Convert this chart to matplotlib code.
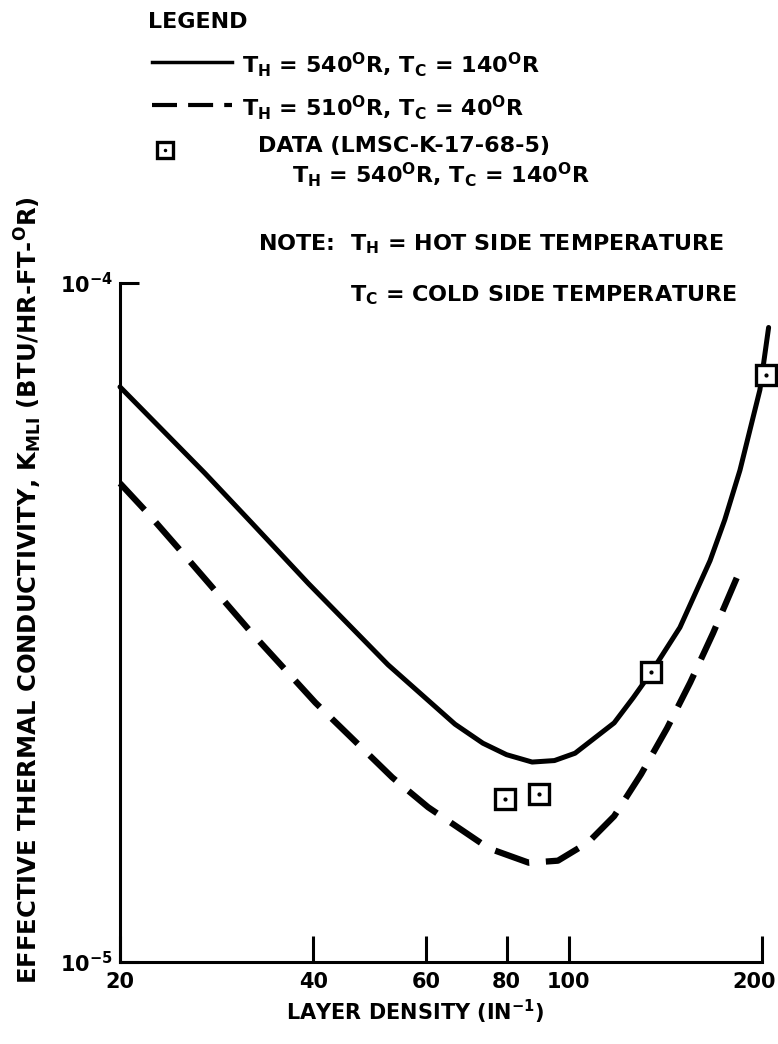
import matplotlib
matplotlib.use('Agg')
import matplotlib.pyplot as plt
from matplotlib.lines import Line2D
from matplotlib.transforms import ScaledTranslation

plt.rcParams['font.family'] = ['DejaVu Sans']
plt.rcParams['font.weight'] = 'bold'
plt.rcParams['mathtext.fontset'] = 'dejavusans'
plt.rcParams['mathtext.default'] = 'bf'
plt.rcParams['lines.scale_dashes'] = False

# layer density (1/in) vs effective conductivity, TH=540R TC=140R
density_hot = [20, 27.1, 32.1, 39.3, 52.3, 66.5, 73.5, 80, 87.7, 95, 102.3, 117.7, 126, 134.4, 149, 166, 175, 184.8, 198.5, 204.8]
k_hot = [7.03e-5, 5.25e-5, 4.43e-5, 3.61e-5, 2.74e-5, 2.24e-5, 2.10e-5, 2.02e-5, 1.97e-5, 1.98e-5, 2.03e-5, 2.25e-5, 2.45e-5, 2.67e-5, 3.11e-5, 3.9e-5, 4.48e-5, 5.30e-5, 6.96e-5, 8.6e-5]
# TH=510R TC=40R
density_cold = [20, 22.1, 25.4, 32.1, 40.3, 53.1, 60.4, 75.1, 86.7, 96.2, 107.2, 117.7, 129.6, 142.3, 154.6, 167.8, 183.6]
k_cold = [5.07e-5, 4.58e-5, 3.94e-5, 3.05e-5, 2.41e-5, 1.87e-5, 1.69e-5, 1.47e-5, 1.40e-5, 1.41e-5, 1.50e-5, 1.64e-5, 1.89e-5, 2.21e-5, 2.58e-5, 3.05e-5, 3.72e-5]
# LMSC-K-17-68-5 data
density_data = [79.6, 89.9, 134.4, 202.8]
k_data = [1.74e-5, 1.77e-5, 2.67e-5, 7.32e-5]

xticks = [20, 40, 60, 80, 100, 200]
xticklabels = ['20', '40', '60', '80', '100', '200']
yticks = [1e-5, 1e-4]
yticklabels = [r'$10^{-5}$', r'$10^{-4}$']

W, H = 778, 1044
fig = plt.figure(figsize=(W / 100, H / 100), dpi=100)
ax = fig.add_axes([120 / W, 1 - 962 / H, (762 - 120) / W, (962 - 283) / H])
ax.set_xscale('log')
ax.set_yscale('log')
ax.set_xlim(20, 200)
ax.set_ylim(1e-5, 1e-4)

ax.plot(density_hot, k_hot, color='k', lw=3.6, solid_capstyle='round', clip_on=False)
ax.plot(density_cold, k_cold, color='k', lw=4.5, dashes=(26, 12), clip_on=False)
ax.plot(density_data, k_data, ls='none', marker='s', ms=15, mfc='white', mec='k', mew=2.4, clip_on=False, zorder=5)
ax.plot(density_data, k_data, ls='none', marker='.', ms=4, color='k', clip_on=False, zorder=6)

for s in ['top', 'right']:
    ax.spines[s].set_visible(False)
for s in ['left', 'bottom']:
    ax.spines[s].set_linewidth(2.2)

ax.minorticks_off()
ax.set_xticks(xticks)
ax.set_xticklabels(xticklabels)
ax.set_yticks(yticks)
ax.set_yticklabels(yticklabels)
ax.tick_params(axis='x', direction='in', length=19, width=2.2, pad=7, labelsize=15)
ax.tick_params(axis='y', direction='in', length=14, width=2.2, pad=5, labelsize=15)
# last label sits a bit left of its tick, as in the original
lab = ax.get_xticklabels()[-1]
lab.set_transform(lab.get_transform() + ScaledTranslation(-6 / 72, 0, fig.dpi_scale_trans))

fig.text(415 / W, 1 - 1012 / H, r'LAYER DENSITY (IN$^{-1}$)', fontsize=15, ha='center', va='center')
fig.text(28 / W, 1 - 590 / H, r'EFFECTIVE THERMAL CONDUCTIVITY, K$_{MLI}$ (BTU/HR-FT-$^{O}$R)',
         fontsize=17.5, rotation=90, ha='center', va='center')

# legend block
fs = 16
fig.text(148 / W, 1 - 22 / H, 'LEGEND', fontsize=fs, va='center', ha='left')
fig.add_artist(Line2D([152 / W, 232 / W], [1 - 62 / H, 1 - 62 / H], color='k', lw=2.5, transform=fig.transFigure))
fig.text(242 / W, 1 - 65 / H, r'T$_H$ = 540$^O$R, T$_C$ = 140$^O$R', fontsize=fs, va='center', ha='left')
fig.add_artist(Line2D([152 / W, 232 / W], [1 - 105 / H, 1 - 105 / H], color='k', lw=3, dashes=(18, 8), transform=fig.transFigure))
fig.text(242 / W, 1 - 108 / H, r'T$_H$ = 510$^O$R, T$_C$ = 40$^O$R', fontsize=fs, va='center', ha='left')
fig.add_artist(Line2D([165 / W], [1 - 150 / H], marker='s', ms=12, mfc='white', mec='k', mew=2.4, transform=fig.transFigure))
fig.add_artist(Line2D([165 / W], [1 - 150 / H], marker='.', ms=3, color='k', transform=fig.transFigure))
fig.text(258 / W, 1 - 146 / H, 'DATA (LMSC-K-17-68-5)', fontsize=fs, va='center', ha='left')
fig.text(292 / W, 1 - 175 / H, r'T$_H$ = 540$^O$R, T$_C$ = 140$^O$R', fontsize=fs, va='center', ha='left')

fig.text(258 / W, 1 - 244 / H, r'NOTE:  T$_H$ = HOT SIDE TEMPERATURE', fontsize=fs, va='center', ha='left')
fig.text(350 / W, 1 - 295 / H, r'T$_C$ = COLD SIDE TEMPERATURE', fontsize=fs, va='center', ha='left')

fig.savefig('out.png', dpi=100)
